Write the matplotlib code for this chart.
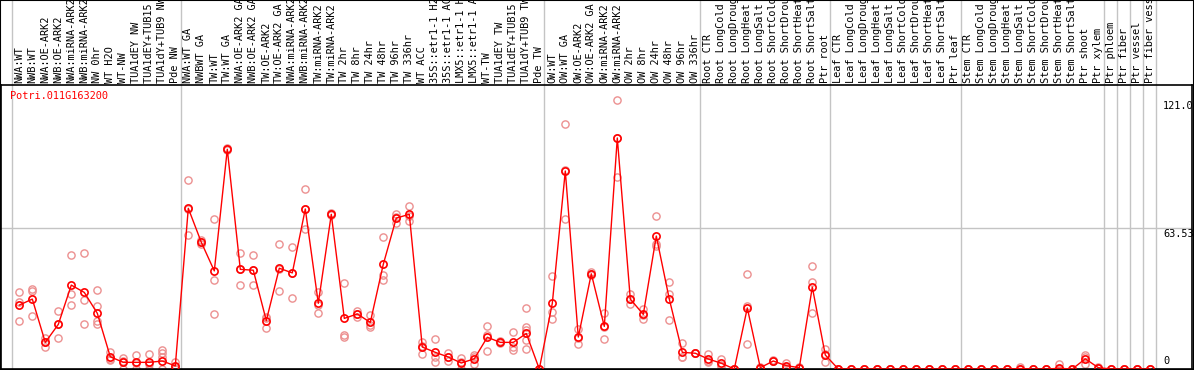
import numpy as np
import matplotlib
matplotlib.use("Agg")
import matplotlib.pyplot as plt
import matplotlib.transforms as mtransforms

# sample labels, in plot order
labels = [
    "NWA:WT", "NWB:WT", "NWA:OE-ARK2", "NWB:OE-ARK2", "NWA:miRNA-ARK2", "NWB:miRNA-ARK2",
    "NW 0hr", "WT H2O", "WT-NW", "TUA1dEY NW", "TUA1dEY+TUB15 NW", "TUA1dY+TUB9 NW", "Pde NW",
    "NWA:WT GA", "NWBWT GA", "TW:WT", "TW:WT GA", "NWA:OE-ARK2 GA", "NWB:OE-ARK2 GA",
    "TW:OE-ARK2", "TW:OE-ARK2 GA", "NWA:miRNA-ARK2 GA", "NWB:miRNA-ARK2 GA", "TW:miRNA-ARK2",
    "TW:miRNA-ARK2", "TW 2hr", "TW 8hr", "TW 24hr", "TW 48hr", "TW 96hr", "TW 336hr", "WT ACC",
    "35S::etr1-1 H2O", "35S::etr1-1 ACC", "LMX5::etr1-1 H2O", "LMX5::etr1-1 ACC", "WT-TW",
    "TUA1dEY TW", "TUA1dEY+TUB15 TW", "TUA1dY+TUB9 TW", "Pde TW",
    "OW:WT", "OW:WT GA", "OW:OE-ARK2", "OW:OE-ARK2 GA", "OW:miRNA-ARK2", "OW:miRNA-ARK2",
    "OW 2hr", "OW 8hr", "OW 24hr", "OW 48hr", "OW 96hr", "OW 336hr",
    "Root CTR", "Root LongCold", "Root LongDrought", "Root LongHeat", "Root LongSalt",
    "Root ShortCold", "Root ShortDrought", "Root ShortHeat", "Root ShortSalt", "Ptr root",
    "Leaf CTR", "Leaf LongCold", "Leaf LongDrought", "Leaf LongHeat", "Leaf LongSalt",
    "Leaf ShortCold", "Leaf ShortDrought", "Leaf ShortHeat", "Leaf ShortSalt", "Ptr leaf",
    "Stem CTR", "Stem LongCold", "Stem LongDrought", "Stem LongHeat", "Stem LongSalt",
    "Stem ShortCold", "Stem ShortDrought", "Stem ShortHeat", "Stem ShortSalt", "Ptr shoot",
    "Ptr xylem", "Ptr phloem", "Ptr fiber", "Ptr vessel", "Ptr fiber vessel",
]

# mean expression per sample
means = [
    28.8, 31.5, 12.0, 20.1, 37.8, 34.5, 25.1, 5.5, 3.0, 3.0, 3.0, 3.6, 1.4,
    72.4, 57.1, 44.2, 99.0, 44.9, 44.5, 21.8, 45.4, 43.3, 72.1, 29.6, 69.7, 22.8, 24.8,
    21.0, 47.2, 68.0, 69.7, 9.9, 7.5, 5.4, 2.7, 4.6, 14.3, 12.0, 12.0, 16.0, 0.0,
    29.6, 89.2, 14.4, 42.9, 19.2, 104.1, 31.5, 24.6, 59.9, 31.5, 7.5, 7.1,
    4.5, 2.6, 0.0, 27.5, 0.6, 3.6, 1.5, 0.6, 36.9, 6.3,
    0, 0, 0, 0, 0, 0, 0, 0, 0, 0,
    0, 0, 0, 0, 0.2, 0, 0, 0.3, 0, 4.6,
    0.6, 0, 0, 0, 0,
]

# individual replicates per sample
reps = [
    [34.6, 30.0, 21.6], [35.9, 35.0, 23.7], [13.8, 12.0, 10.1], [26.0, 20.4, 13.8],
    [51.2, 33.6, 28.8], [52.1, 30.9, 20.1], [35.4, 28.4, 21.5, 20.1], [7.8, 4.1, 4.6],
    [5.1, 0.1, 3.8], [6.3, 0.1, 2.6], [6.6, 0.1, 2.3], [8.6, 7.1, 5.5, 0.0], [3.3, 0.0, 1.0],
    [85.2, 60.2, 72.0], [58.0, 56.5, 57.0], [67.4, 40.0, 24.8], [99.5, 98.5, 99.0],
    [52.1, 37.7, 45.0], [51.2, 37.7, 44.6], [23.6, 18.6, 23.0], [56.2, 35.0, 45.0],
    [54.8, 31.8, 43.4], [81.1, 62.9, 72.3], [34.7, 25.1, 29.0], [70.2, 69.2, 69.7],
    [38.7, 15.3, 14.6], [26.3, 23.3, 24.8], [24.3, 18.8, 20.0], [59.5, 42.4, 40.1],
    [69.8, 65.9, 68.3], [73.3, 66.7, 69.0], [12.0, 6.9, 10.5], [13.5, 5.5, 3.3],
    [7.1, 3.7, 5.4], [4.8, 0.0, 3.3], [6.3, 2.3, 5.2], [19.4, 8.0, 15.5], [12.6, 11.5, 12.0],
    [16.7, 9.9, 8.7], [27.3, 18.8, 17.6, 13.1, 8.9], [0.0, 0.0, 0.0],
    [41.9, 25.5, 22.7], [110.4, 67.4, 89.5], [17.9, 11.3, 14.0], [43.5, 42.5, 42.9],
    [25.4, 13.5, 18.8], [121.0, 86.3, 104.0], [33.8, 29.1, 31.5], [27.0, 22.7, 24.2],
    [68.9, 55.6, 56.5], [39.2, 33.9, 22.1], [11.9, 5.5, 5.2], [7.1, 7.1, 7.1],
    [6.6, 3.3, 3.7], [4.5, 1.4, 2.0], [0.0, 0.0, 0.0], [42.8, 28.4, 11.1], [0.6, 0.5, 0.8],
    [3.6, 3.4, 3.9], [2.9, 1.0, 0.6], [0.6, 0.4, 0.8], [46.4, 39.2, 25.2], [9.0, 3.0, 6.8],
    [0, 0, 0], [0, 0, 0], [0, 0, 0], [0, 0, 0], [0, 0, 0],
    [0, 0, 0], [0, 0, 0], [0, 0, 0], [0, 0, 0], [0, 0, 0],
    [0, 0, 0], [0, 0, 0], [0, 0, 0], [0, 0, 0], [0.9, 0, 0],
    [0, 0, 0], [0, 0, 0], [2.3, 0, 0], [0, 0, 0], [6.3, 2.3, 5.2],
    [0.6, 0.5, 0.8], [0, 0, 0], [0, 0, 0], [0, 0, 0], [0, 0, 0],
]

# first sample index of each tissue group (last entry = end)
group_starts = [0, 13, 41, 53, 63, 73, 84, 85, 86, 87, 88]
gene = "Potri.011G163200"
y_marks = [121.0, 63.53]

W, H = 1194, 370
fig = plt.figure(figsize=(W / 100, H / 100), dpi=100)
ax = fig.add_axes([1 / W, 1 / H, 1191 / W, 284 / H])

x = np.arange(len(labels))
ax.set_xlim((1 - 19.3) / 13, (1192 - 19.3) / 13)
ax.set_ylim(0, 284 / 2.2194)

mono = "DejaVu Sans Mono"
red = "#ff0000"
pink = "#ec9090"

# group separators, run up through the label strip
for g in group_starts:
    ax.axvline(g - 0.6, ymin=0, ymax=1.31, color="#c4c4c4", lw=1, clip_on=False, zorder=1)
ax.axhline(y_marks[1], color="#c4c4c4", lw=1, zorder=1)

# replicates
for i, r in enumerate(reps):
    ax.plot([i] * len(r), r, "o", ms=5.2, mfc="none", mec=pink, mew=1.0, zorder=2, clip_on=False)

# means
ax.plot(x, means, "-", color=red, lw=1.0, zorder=3)
ax.plot(x, means, "o", ms=5.2, mfc="none", mec=red, mew=1.2, zorder=4, clip_on=False)

for s in ax.spines.values():
    s.set_color("black")
    s.set_linewidth(1.2)
ax.set_xticks([])
ax.set_yticks([])

# sample labels above the plot
trans = mtransforms.blended_transform_factory(ax.transData, ax.transAxes)
trans = mtransforms.offset_copy(trans, fig=fig, y=2, units="dots")
for i, lab in enumerate(labels):
    ax.text(i, 1.0, lab, transform=trans, rotation=90, ha="center", va="bottom",
            fontsize=7.4, family=mono, clip_on=False)

fig.text(10 / W, 1 - 96 / H, gene, color=red, fontsize=7.4, family=mono, ha="left", va="center")

# scale values on the right
xr = (1163 - 19.3) / 13
for v in y_marks:
    ax.annotate(("%.1f" % v) if v == y_marks[0] else "%.2f" % v, (xr, v), xytext=(0, -1),
                textcoords="offset pixels", ha="left", va="top", fontsize=7.4, family=mono,
                annotation_clip=False)
ax.annotate("0", (xr, 0), xytext=(0, 3), textcoords="offset pixels", ha="left", va="bottom",
            fontsize=7.4, family=mono, annotation_clip=False)

# outer frame
fig.add_artist(plt.Rectangle((0, 0), 1, 1, fill=False, ec="black", lw=1.5, transform=fig.transFigure))

plt.savefig("out.png", dpi=100)
